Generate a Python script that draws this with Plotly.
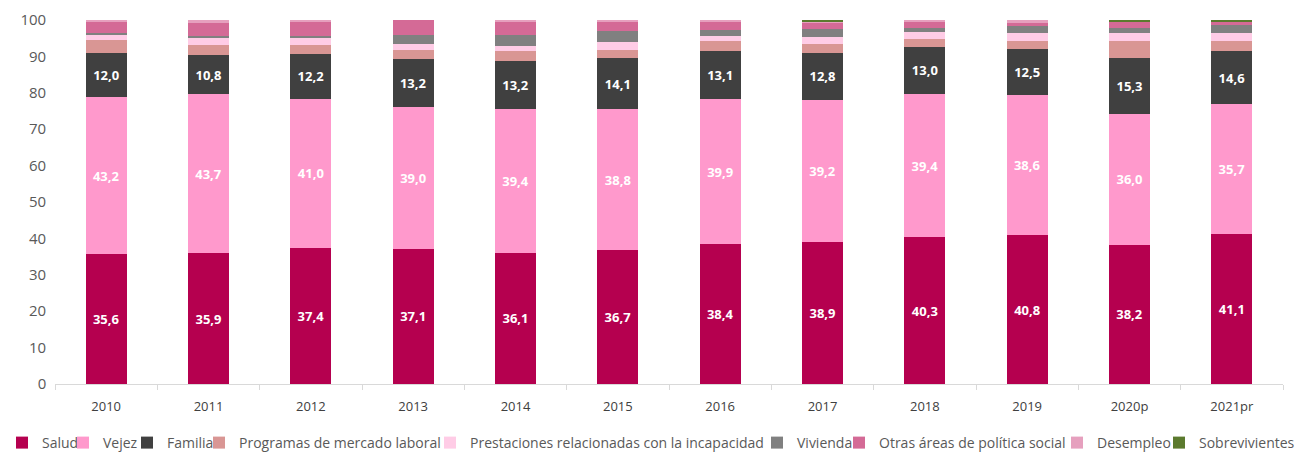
import plotly.graph_objects as go

years = ["2010", "2011", "2012", "2013", "2014", "2015", "2016", "2017", "2018", "2019", "2020p", "2021pr"]

salud = [35.6, 35.9, 37.4, 37.1, 36.1, 36.7, 38.4, 38.9, 40.3, 40.8, 38.2, 41.1]
vejez = [43.2, 43.7, 41.0, 39.0, 39.4, 38.8, 39.9, 39.2, 39.4, 38.6, 36.0, 35.7]
familia = [12.0, 10.8, 12.2, 13.2, 13.2, 14.1, 13.1, 12.8, 13.0, 12.5, 15.3, 14.6]
mercado_laboral = [3.6, 2.7, 2.6, 2.5, 2.7, 2.2, 2.7, 2.5, 2.0, 2.4, 4.7, 2.9]
incapacidad = [1.6, 2.0, 2.0, 1.5, 1.5, 2.1, 1.6, 2.0, 2.1, 2.0, 2.1, 2.1]
vivienda = [0.5, 0.5, 0.5, 2.5, 2.9, 3.0, 1.6, 2.1, 1.1, 2.1, 1.6, 2.1]
otras = [3.0, 3.7, 3.7, 4.2, 3.6, 2.5, 2.1, 1.9, 1.5, 0.9, 1.6, 1.0]
desempleo = [0.5, 0.6, 0.6, 0.0, 0.6, 0.6, 0.6, 0.2, 0.6, 0.7, 0.0, 0.0]
sobrevivientes = [0.0, 0.0, 0.0, 0.0, 0.0, 0.0, 0.0, 0.4, 0.0, 0.0, 0.5, 0.5]

series = [
    ("Salud", salud, "#B5004F", True),
    ("Vejez", vejez, "#FF99CC", True),
    ("Familia", familia, "#404040", True),
    ("Programas de mercado laboral", mercado_laboral, "#D99694", False),
    ("Prestaciones relacionadas con la incapacidad", incapacidad, "#FFCCE6", False),
    ("Vivienda", vivienda, "#808080", False),
    ("Otras áreas de política social", otras, "#D46A96", False),
    ("Desempleo", desempleo, "#E6A0BE", False),
    ("Sobrevivientes", sobrevivientes, "#5B7A2E", False),
]

# horizontal pixel where each legend entry's text starts in the reference
legend_text_x = [42, 103, 167, 239, 470, 797, 879, 1097, 1199]

W, H = 1299, 454
ML, MR, MT, MB = 55, 16, 20, 70
plot_w = W - ML - MR
plot_h = H - MT - MB

fig = go.Figure()
layout_legends = {}
for i, (name, vals, color, labeled) in enumerate(series):
    lname = "legend" if i == 0 else f"legend{i + 1}"
    fig.add_trace(go.Bar(
        name=name,
        x=years,
        y=vals,
        legend=lname,
        showlegend=True,
        marker=dict(color=color, line=dict(width=0)),
        text=[f"{v:.1f}".replace(".", ",") for v in vals] if labeled else None,
        textposition="inside" if labeled else "none",
        insidetextanchor="middle",
        textangle=0,
        textfont=dict(color="white", size=13, family="Open Sans", weight="bold"),
        hoverinfo="x+y+name",
    ))
    layout_legends[lname] = dict(
        orientation="h",
        x=(legend_text_x[i] - 40 - ML) / plot_w,
        xanchor="left",
        y=-(443 - (H - MB)) / plot_h,
        yanchor="middle",
        font=dict(size=14, color="#595959", family="Open Sans"),
        itemwidth=30,
        bgcolor="rgba(0,0,0,0)",
        visible=True,
    )

fig.update_layout(
    barmode="stack",
    bargap=0.6,
    width=W,
    height=H,
    showlegend=True,
    margin=dict(l=ML, r=MR, t=MT, b=MB, autoexpand=False),
    plot_bgcolor="white",
    paper_bgcolor="white",
    font=dict(family="Open Sans", size=13, color="#595959"),
    uniformtext=dict(minsize=8, mode="show"),
    xaxis=dict(
        showline=True, linecolor="#D9D9D9", linewidth=1,
        ticks="outside", tickson="boundaries", ticklen=5, tickcolor="#D9D9D9",
        tickfont=dict(size=13, color="#404040"),
        ticklabelstandoff=10,
        showgrid=False,
    ),
    yaxis=dict(
        range=[0, 100], dtick=10, showgrid=False, zeroline=False,
        showline=False, tickfont=dict(size=15, color="#595959"),
        ticksuffix="  ",
    ),
    **layout_legends,
)

fig.write_html(
    "out.html",
    config={"displayModeBar": False},
    post_script="document.body.style.margin='0';document.body.style.overflow='hidden';",
)
